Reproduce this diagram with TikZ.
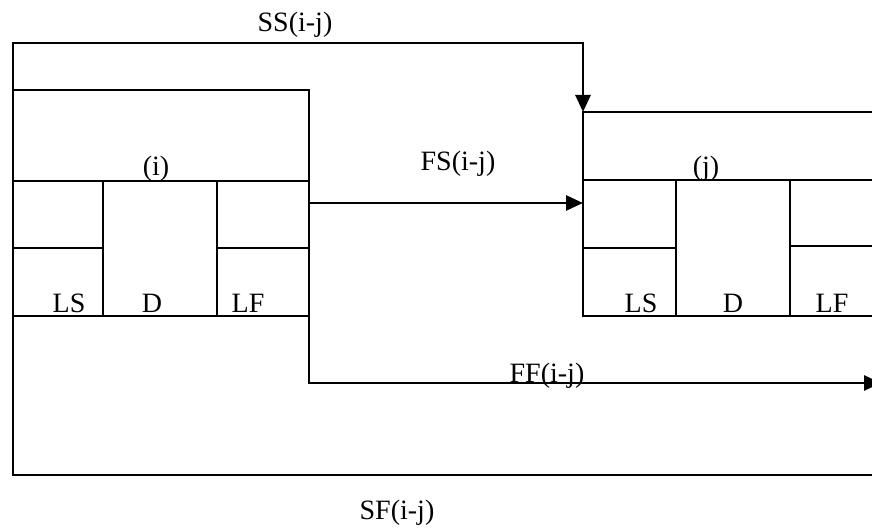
\documentclass[tikz,border=0pt]{standalone}
\usepackage{fontspec}
\setmainfont{Liberation Serif}
\usetikzlibrary{arrows.meta,positioning}
\begin{document}
\begin{tikzpicture}[x=0.5pt, y=-0.5pt, line width=1.35pt,
    >={Triangle[length=8.5pt,width=7.5pt]},
    actbox/.style={draw, rectangle, inner sep=0pt, outer sep=0pt,
      minimum width=148pt, anchor=north west},
    lbl/.style={font=\fontsize{14}{16}\selectfont, inner sep=0pt}]
	\useasboundingbox (0,0) rectangle (872,528);
	\clip (0,0) rectangle (872,528);
	% activity boxes
	\node[actbox, minimum height=113pt] (boxi) at (13,90) {};
	\node[actbox, minimum height=102pt] (boxj) at (583,112) {};
	% cells of (i)
	\draw (13,181) -- (309,181);
	\draw (103,181) -- (103,316);
	\draw (217,181) -- (217,316);
	\draw (13,248) -- (103,248);
	\draw (217,248) -- (309,248);
	% cells of (j)
	\draw (583,180) -- (879,180);
	\draw (676,180) -- (676,316);
	\draw (790,180) -- (790,316);
	\draw (583,248) -- (676,248);
	\draw (790,246) -- (879,246);
	% relations
	\coordinate (ssbend) at (583,43);
	\coordinate (ffend) at (881,383);
	\coordinate (sfend) at (880,475);
	\draw[->] (boxi.north west) |- (ssbend) -- (boxj.north west);
	\draw[->] (boxi.east) -- (boxi.east -| boxj.west);
	\draw[->] (boxi.south east) |- (ffend);
	\draw (boxi.south west) |- (sfend);
	% labels
	\node[lbl] (ss) at (295,25) {SS(i-j)};
	\node[lbl] (fs) at (458,164) {FS(i-j)};
	\node[lbl] (ff) at (547,376) {FF(i-j)};
	\node[lbl] (sf) at (397,513) {SF(i-j)};
	\node[lbl, anchor=base] (ni) at (156,176) {(i)};
	\node[lbl, anchor=base] (nj) at (706,176) {(j)};
	\node[lbl, anchor=base] (lsi) at (69,313) {LS};
	\node[lbl, anchor=base] (di) at (152,313) {D};
	\node[lbl, anchor=base] (lfi) at (248,313) {LF};
	\node[lbl, anchor=base] (lsj) at (641,313) {LS};
	\node[lbl, anchor=base] (dj) at (733,313) {D};
	\node[lbl, anchor=base] (lfj) at (832,313) {LF};
\end{tikzpicture}
\end{document}
